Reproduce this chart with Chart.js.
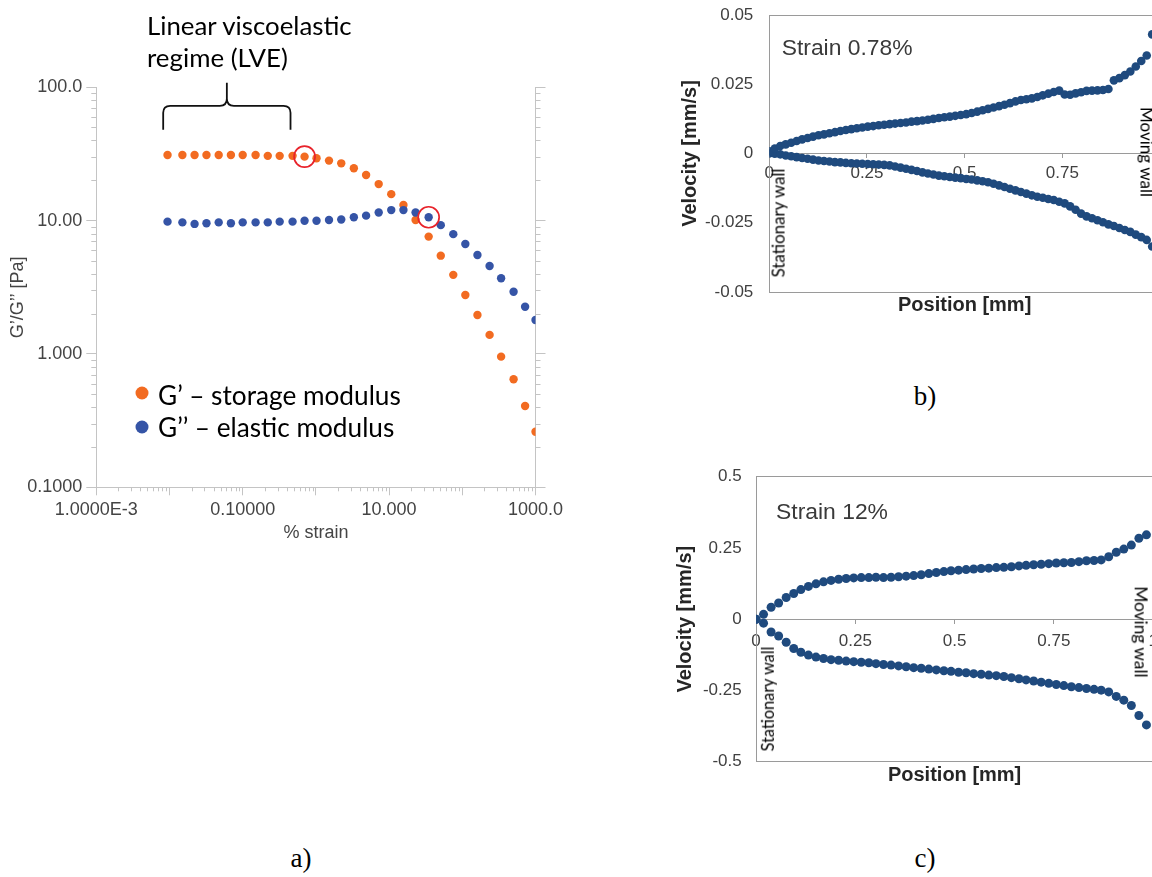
<!DOCTYPE html>
<html><head><meta charset="utf-8">
<script src="https://cdn.jsdelivr.net/npm/chart.js@4.4.1/dist/chart.umd.min.js"></script>
<style>
html,body{margin:0;padding:0;width:1152px;height:877px;overflow:hidden;background:#fff;}
canvas{position:absolute;}
.t{position:absolute;white-space:nowrap;line-height:1;color:#000;}
.cal{font-family:'Lato','Open Sans',sans-serif;}
.ar{font-family:'Liberation Sans',Arial,sans-serif;color:#3a3a3a;}
.vc{transform:translateY(-50%);}
.rot{transform:translate(-50%,-50%) rotate(-90deg);}
.rotr{transform:translate(-50%,-50%) rotate(90deg);}
.cap{font-family:'Liberation Serif','DejaVu Serif',serif;font-size:27px;transform:translate(-50%,-50%);}
.dot{position:absolute;width:13px;height:13px;border-radius:50%;transform:translate(-50%,-50%);}
</style></head><body>
<canvas id="ca" width="600" height="560" style="left:0;top:0"></canvas>
<canvas id="cb" width="520" height="330" style="left:660px;top:0"></canvas>
<canvas id="cc" width="520" height="330" style="left:660px;top:460px"></canvas>

<div class="t cal vc" id="lve1" style="left:147px;top:25.5px">Linear viscoelastic</div>
<div class="t cal vc" id="lve2" style="left:147px;top:58.3px">regime (LVE)</div>
<div id="legendA"></div>

<div class="t ar vc" id="strainB" style="left:781.7px;top:47.2px">Strain 0.78%</div>
<div class="t ar vc" id="strainC" style="left:776px;top:510.8px">Strain 12%</div>
<div class="t cal rot" id="statB" style="left:779px;top:222.5px">Stationary wall</div>
<div class="t cal rot" id="statC" style="left:767.5px;top:699.2px">Stationary wall</div>
<div class="t cal rotr" id="movB" style="left:1147px;top:152px">Moving wall</div>
<div class="t cal rotr" id="movC" style="left:1141px;top:632.3px">Moving wall</div>

<div class="t cap" style="left:301px;top:858px">a)</div>
<div class="t cap" style="left:925px;top:396px">b)</div>
<div class="t cap" style="left:925px;top:858px">c)</div>

<script>
// ---------- a) amplitude sweep ----------
const strainPct = [0.0094, 0.015, 0.022, 0.032, 0.047, 0.069, 0.10, 0.15, 0.22, 0.32, 0.48, 0.70, 1.02, 1.51, 2.22, 3.30, 4.85, 7.21, 10.7, 15.7, 23.0, 34.7, 50.8, 75.3, 110, 161, 236, 339, 502, 721, 1000];
const storageModulus = [31.1, 31.1, 31.1, 31.1, 31.1, 31.1, 31.1, 31.1, 30.6, 30.6, 30.6, 30.2, 29.4, 28.2, 26.9, 24.7, 22.0, 18.8, 15.8, 13.1, 10.1, 7.59, 5.46, 3.92, 2.77, 1.96, 1.39, 0.955, 0.646, 0.407, 0.261];
const lossModulus = [9.83, 9.70, 9.45, 9.55, 9.70, 9.55, 9.70, 9.70, 9.70, 9.83, 9.83, 9.98, 9.98, 10.1, 10.2, 10.6, 10.9, 11.5, 12.0, 12.0, 11.5, 10.6, 9.25, 7.92, 6.68, 5.53, 4.57, 3.70, 2.93, 2.26, 1.80];
const lveMarkIndex = [11, 21];            // circled points: end of LVE (G'), crossover region (G'')
const lveStrainRange = [0.0082, 0.45];    // bracket extent
const xTickValuesA = [0.001, 0.01, 0.1, 1, 10, 100, 1000];
const xTickLabelsA = ['1.0000E-3', '', '0.10000', '', '10.000', '', '1000.0'];
const yTickValuesA = [0.1, 1, 10, 100];
const yTickLabelsA = ['0.1000', '1.000', '10.00', '100.0'];

// ---------- b) velocity profile, strain 0.78% ----------
const positionB = [0, 0.014, 0.028, 0.042, 0.056, 0.07, 0.084, 0.098, 0.112, 0.126, 0.14, 0.154, 0.168, 0.182, 0.196, 0.21, 0.224, 0.238, 0.252, 0.266, 0.28, 0.294, 0.308, 0.322, 0.336, 0.35, 0.364, 0.378, 0.392, 0.406, 0.42, 0.434, 0.448, 0.462, 0.476, 0.49, 0.504, 0.518, 0.532, 0.546, 0.56, 0.574, 0.588, 0.602, 0.616, 0.63, 0.644, 0.658, 0.672, 0.686, 0.7, 0.714, 0.728, 0.742, 0.756, 0.77, 0.784, 0.798, 0.812, 0.826, 0.84, 0.854, 0.868, 0.882, 0.896, 0.91, 0.924, 0.938, 0.952, 0.966, 0.98];
const velUpperB = [0.0008, 0.0018, 0.0027, 0.0033, 0.0039, 0.0045, 0.0051, 0.0056, 0.0061, 0.0066, 0.0069, 0.0073, 0.0077, 0.0081, 0.0085, 0.0088, 0.0091, 0.0094, 0.0097, 0.0099, 0.0102, 0.0104, 0.0106, 0.0108, 0.0110, 0.0112, 0.0115, 0.0117, 0.0119, 0.0122, 0.0125, 0.0128, 0.0131, 0.0133, 0.0136, 0.0139, 0.0142, 0.0146, 0.0151, 0.0156, 0.0161, 0.0166, 0.0171, 0.0176, 0.0182, 0.0188, 0.0193, 0.0196, 0.0199, 0.0204, 0.0210, 0.0216, 0.0222, 0.0227, 0.0213, 0.0212, 0.0217, 0.0221, 0.0226, 0.0227, 0.0228, 0.0229, 0.0233, 0.0264, 0.0272, 0.0283, 0.0296, 0.0314, 0.0334, 0.0354, 0.0430];
const velLowerB = [0.0000, -0.0001, -0.0003, -0.0007, -0.0010, -0.0013, -0.0016, -0.0019, -0.0022, -0.0025, -0.0027, -0.0029, -0.0031, -0.0032, -0.0034, -0.0035, -0.0036, -0.0037, -0.0038, -0.0039, -0.0040, -0.0041, -0.0043, -0.0047, -0.0051, -0.0055, -0.0059, -0.0063, -0.0068, -0.0072, -0.0076, -0.0080, -0.0082, -0.0085, -0.0087, -0.0089, -0.0092, -0.0094, -0.0097, -0.0100, -0.0104, -0.0109, -0.0115, -0.0121, -0.0127, -0.0133, -0.0139, -0.0145, -0.0151, -0.0156, -0.0160, -0.0164, -0.0168, -0.0174, -0.0180, -0.0191, -0.0203, -0.0217, -0.0227, -0.0234, -0.0241, -0.0248, -0.0256, -0.0262, -0.0269, -0.0276, -0.0283, -0.0293, -0.0302, -0.0312, -0.0336];
const yTickValuesB = [-0.05, -0.025, 0, 0.025, 0.05];
const yTickLabelsB = ['-0.05', '-0.025', '0', '0.025', '0.05'];

// ---------- c) velocity profile, strain 12% ----------
const positionC = [0, 0.019, 0.038, 0.057, 0.076, 0.095, 0.113, 0.132, 0.151, 0.170, 0.189, 0.208, 0.227, 0.246, 0.265, 0.284, 0.302, 0.321, 0.340, 0.359, 0.378, 0.397, 0.416, 0.435, 0.454, 0.473, 0.491, 0.510, 0.529, 0.548, 0.567, 0.586, 0.605, 0.624, 0.643, 0.662, 0.680, 0.699, 0.718, 0.737, 0.756, 0.775, 0.794, 0.813, 0.832, 0.851, 0.869, 0.888, 0.907, 0.926, 0.945, 0.964, 0.983];
const velUpperC = [0, 0.017, 0.042, 0.057, 0.076, 0.090, 0.104, 0.115, 0.124, 0.131, 0.136, 0.140, 0.143, 0.145, 0.146, 0.146, 0.147, 0.146, 0.147, 0.149, 0.151, 0.153, 0.156, 0.160, 0.164, 0.167, 0.170, 0.172, 0.174, 0.176, 0.178, 0.179, 0.181, 0.182, 0.184, 0.187, 0.189, 0.191, 0.193, 0.195, 0.197, 0.198, 0.199, 0.202, 0.205, 0.206, 0.208, 0.219, 0.235, 0.246, 0.260, 0.284, 0.296];
const velLowerC = [0, -0.014, -0.045, -0.059, -0.081, -0.103, -0.116, -0.126, -0.133, -0.138, -0.142, -0.144, -0.147, -0.149, -0.151, -0.153, -0.156, -0.159, -0.161, -0.164, -0.167, -0.170, -0.172, -0.175, -0.178, -0.181, -0.183, -0.186, -0.188, -0.191, -0.193, -0.196, -0.198, -0.201, -0.205, -0.209, -0.213, -0.217, -0.221, -0.225, -0.229, -0.233, -0.237, -0.240, -0.243, -0.246, -0.249, -0.255, -0.271, -0.284, -0.303, -0.338, -0.371];
const yTickValuesC = [-0.5, -0.25, 0, 0.25, 0.5];
const yTickLabelsC = ['-0.5', '-0.25', '0', '0.25', '0.5'];

const posTickValues = [0, 0.25, 0.5, 0.75, 1];
const posTickLabels = ['0', '0.25', '0.5', '0.75', '1'];

// ---------- styles ----------
const ORANGE = '#f26b21', BLUE = '#3554a6', RED = '#e8232b', NAVY = '#1f4a7e';
const AXIS_GRAY = '#c4c4c4', FRAME = '#9a9a9a';
const ARIAL = "'Liberation Sans', Arial, sans-serif";

const pts = (xs, ys) => xs.map((x, i) => ({x, y: ys[i]}));
const fixTicks = vals => s => { s.ticks = vals.map(v => ({value: v})); };

// minor log ticks + LVE bracket for chart a
const chartAExtras = {
  id: 'chartAExtras',
  afterDraw(chart) {
    const {ctx, chartArea: ca, scales: {x, y}} = chart;
    ctx.save();
    ctx.strokeStyle = AXIS_GRAY; ctx.lineWidth = 1;
    ctx.beginPath();
    for (let e = -3; e < 3; e++) for (let m = 2; m <= 9; m++) {
      const px = Math.round(x.getPixelForValue(m * Math.pow(10, e))) + 0.5;
      ctx.moveTo(px, ca.bottom); ctx.lineTo(px, ca.bottom + 4);
    }
    for (let e = -1; e < 2; e++) for (let m = 2; m <= 9; m++) {
      const py = Math.round(y.getPixelForValue(m * Math.pow(10, e))) + 0.5;
      ctx.moveTo(ca.left - 5, py); ctx.lineTo(ca.left, py);
      ctx.moveTo(ca.right, py); ctx.lineTo(ca.right + 5, py);
    }
    ctx.stroke();
    // bracket over the LVE range
    const x1 = x.getPixelForValue(lveStrainRange[0]), x2 = x.getPixelForValue(lveStrainRange[1]);
    const xm = (x1 + x2) / 2;
    const yEnd = y.getPixelForValue(48), yBar = y.getPixelForValue(72.6), yTip = y.getPixelForValue(108);
    const r = 7;
    ctx.strokeStyle = '#111'; ctx.lineWidth = 1.8;
    ctx.beginPath();
    ctx.moveTo(x1, yEnd); ctx.lineTo(x1, yBar + r);
    ctx.quadraticCurveTo(x1, yBar, x1 + r, yBar);
    ctx.lineTo(xm - r, yBar);
    ctx.quadraticCurveTo(xm, yBar, xm, yBar - r);
    ctx.lineTo(xm, yTip);
    ctx.moveTo(xm, yBar - r);
    ctx.quadraticCurveTo(xm, yBar, xm + r, yBar);
    ctx.lineTo(x2 - r, yBar);
    ctx.quadraticCurveTo(x2, yBar, x2, yBar + r);
    ctx.lineTo(x2, yEnd);
    ctx.stroke();
    ctx.restore();
  }
};

const chartA = new Chart(document.getElementById('ca'), {
  type: 'scatter',
  data: { datasets: [
    { label: 'G’ – storage modulus', data: pts(strainPct, storageModulus), backgroundColor: ORANGE, pointRadius: 4.2, borderWidth: 0, order: 2 },
    { label: 'G’’ – elastic modulus', data: pts(strainPct, lossModulus), backgroundColor: BLUE, pointRadius: 4.2, borderWidth: 0, order: 1 },
    { label: 'LVE markers', data: [
        {x: strainPct[lveMarkIndex[0]], y: storageModulus[lveMarkIndex[0]]},
        {x: strainPct[lveMarkIndex[1]], y: lossModulus[lveMarkIndex[1]]}],
      backgroundColor: 'rgba(0,0,0,0)', borderColor: RED, borderWidth: 1.7, pointRadius: 10.5, order: 0 }
  ]},
  options: {
    responsive: false, animation: false, devicePixelRatio: 1, events: [],
    layout: { padding: { left: 0, top: 87.3, right: 0, bottom: 0 } },
    plugins: { legend: { display: false }, tooltip: { enabled: false } },
    scales: {
      x: { type: 'logarithmic', position: 'bottom', min: 0.001, max: 1000,
        afterBuildTicks: fixTicks(xTickValuesA), afterFit: s => { s.height = 72.7; },
        ticks: { autoSkip: false, maxRotation: 0, padding: 4, color: '#444', font: { family: ARIAL, size: 18 }, callback: (v, i) => xTickLabelsA[i] },
        grid: { drawOnChartArea: false, drawTicks: true, tickLength: 8, tickColor: AXIS_GRAY },
        border: { display: true, color: AXIS_GRAY },
        title: { display: true, text: '% strain', color: '#444', font: { family: ARIAL, size: 18 }, padding: { top: 0, bottom: 16 } } },
      y: { type: 'logarithmic', position: 'left', min: 0.1, max: 100,
        afterBuildTicks: fixTicks(yTickValuesA), afterFit: s => { s.width = 96.3; },
        ticks: { autoSkip: false, padding: 4, color: '#444', font: { family: ARIAL, size: 18 }, callback: (v, i) => yTickLabelsA[i] },
        grid: { drawOnChartArea: false, drawTicks: true, tickLength: 10, tickColor: AXIS_GRAY },
        border: { display: true, color: AXIS_GRAY },
        title: { display: true, text: 'G’/G’’ [Pa]    ', color: '#444', font: { family: ARIAL, size: 18 }, padding: { top: 7.2, bottom: 0 } } },
      y2: { type: 'logarithmic', position: 'right', min: 0.1, max: 100,
        afterBuildTicks: fixTicks(yTickValuesA), afterFit: s => { s.width = 64.5; },
        ticks: { display: false },
        grid: { drawOnChartArea: false, drawTicks: true, tickLength: 10, tickColor: AXIS_GRAY },
        border: { display: true, color: AXIS_GRAY } }
    }
  },
  plugins: [chartAExtras]
});

function profileChart(id, xs, up, low, yTicks, yLabels, geo) {
  return new Chart(document.getElementById(id), {
    type: 'scatter',
    data: { datasets: [
      { label: 'upper', data: pts(xs, up), backgroundColor: NAVY, pointRadius: geo.r, borderWidth: 0 },
      { label: 'lower', data: pts(xs, low), backgroundColor: NAVY, pointRadius: geo.r, borderWidth: 0 }
    ]},
    options: {
      responsive: false, animation: false, devicePixelRatio: 1, events: [],
      layout: { padding: { left: 0, top: geo.top, right: geo.right, bottom: 0 } },
      plugins: { legend: { display: false }, tooltip: { enabled: false } },
      scales: {
        x: { type: 'linear', min: 0, max: 1, position: { y: 0 },
          afterBuildTicks: fixTicks(posTickValues), afterFit: s => { s.height = 0; },
          ticks: { autoSkip: false, maxRotation: 0, padding: geo.xPad, color: '#404040', font: { family: ARIAL, size: 17 }, callback: (v, i) => posTickLabels[i] },
          grid: { drawOnChartArea: false, drawTicks: true, tickLength: 4, tickColor: FRAME },
          border: { display: true, color: FRAME } },
        x2: { type: 'linear', min: 0, max: 1, position: 'bottom',
          afterFit: s => { s.height = geo.xH; },
          ticks: { display: false },
          grid: { display: true, drawOnChartArea: false, drawTicks: false },
          border: { display: true, color: FRAME },
          title: { display: true, text: 'Position [mm]', color: '#262626', font: { family: ARIAL, size: 20, weight: 'bold' }, padding: { top: 0, bottom: geo.xTitlePad } } },
        y: { type: 'linear', position: 'left', min: yTicks[0], max: yTicks[yTicks.length - 1],
          afterBuildTicks: fixTicks(yTicks), afterFit: s => { s.width = geo.yW; },
          // label gap comes from an invisible tick mark so the layout keeps the plot top where it belongs
          ticks: { autoSkip: false, padding: 0, color: '#404040', font: { family: ARIAL, size: 17 }, callback: (v, i) => yLabels[i] },
          grid: { drawTicks: true, tickLength: geo.yPad, tickColor: 'rgba(0,0,0,0)',
                  color: c => (c.tick && c.tick.value === yTicks[yTicks.length - 1]) ? FRAME : 'rgba(0,0,0,0)' },
          border: { display: true, color: FRAME },
          title: { display: true, text: 'Velocity [mm/s]', color: '#262626', font: { family: ARIAL, size: 20, weight: 'bold' }, padding: { top: geo.yTitlePad, bottom: 0 } } }
      }
    }
  });
}

profileChart('cb', positionB, velUpperB, velLowerB, yTickValuesB, yTickLabelsB,
  { r: 4.3, top: 15, right: 20, yW: 109.3, xH: 38, xPad: 6, yPad: 16, xTitlePad: 13, yTitlePad: 18 });
profileChart('cc', positionC, velUpperC, velLowerC, yTickValuesC, yTickLabelsC,
  { r: 4.5, top: 16.7, right: 26.8, yW: 96, xH: 28.3, xPad: 8, yPad: 14.3, xTitlePad: 3, yTitlePad: 13 });

// legend for chart a, built from its datasets
const legendPos = [{dotY: 392.7, textY: 394.7}, {dotY: 426.7, textY: 427.2}];
const legendEl = document.getElementById('legendA');
chartA.data.datasets.slice(0, 2).forEach((ds, i) => {
  const d = document.createElement('div');
  d.className = 'dot'; d.style.left = '141.8px'; d.style.top = legendPos[i].dotY + 'px'; d.style.background = ds.backgroundColor;
  legendEl.appendChild(d);
  const t = document.createElement('div');
  t.className = 't cal vc'; t.id = 'leg' + i; t.style.left = '158px'; t.style.top = legendPos[i].textY + 'px';
  t.textContent = ds.label;
  legendEl.appendChild(t);
});

// size text to the reference widths
function fitWidth(el, w) { el.style.fontSize = '100px'; const m = el.offsetWidth; const fs = 100 * w / m; el.style.fontSize = fs + 'px'; return fs; }
const fsLve = fitWidth(document.getElementById('lve1'), 204.7);
document.getElementById('lve2').style.fontSize = fsLve + 'px';
const fsLeg = fitWidth(document.getElementById('leg0'), 243);
document.getElementById('leg1').style.fontSize = fsLeg + 'px';
fitWidth(document.getElementById('strainB'), 131);
fitWidth(document.getElementById('strainC'), 112);
fitWidth(document.getElementById('statB'), 109);
fitWidth(document.getElementById('statC'), 105);
fitWidth(document.getElementById('movB'), 90);
fitWidth(document.getElementById('movC'), 91.3);
</script>
</body></html>
